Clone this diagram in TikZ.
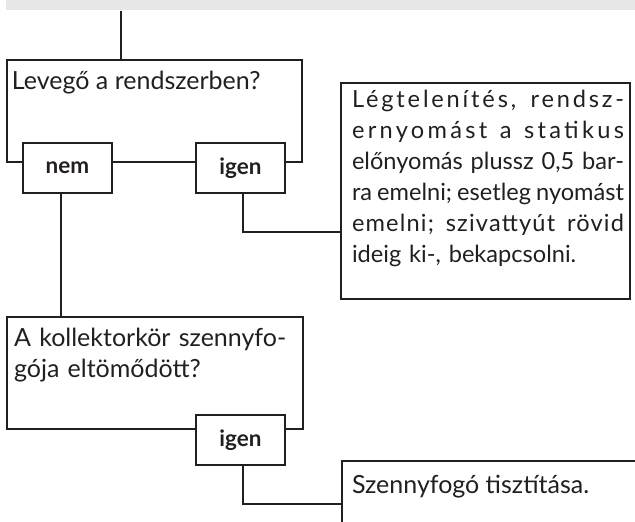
\documentclass[tikz,border=0pt]{standalone}
\usepackage{fontspec}
\setmainfont{Lato}
\definecolor{ink}{HTML}{231F20}
\definecolor{bar}{HTML}{E6E7E9}
\newcommand{\jline}[2][0]{\leavevmode\hbox to 272pt{\addfontfeature{LetterSpace=#1}#2}}
\begin{document}
\begin{tikzpicture}[x=1pt,y=-1pt,
  box/.style={draw=ink, line width=2.2pt, inner sep=0pt, outer sep=0pt, anchor=north west},
  lbl/.style={box, fill=white, text=ink, font=\bfseries\fontsize{22.5}{26}\selectfont, minimum width=89pt, minimum height=50pt},
  txt/.style={anchor=base west, inner sep=0pt, outer sep=0pt, text=ink, font=\fontsize{25}{31}\selectfont},
  small/.style={txt, font=\fontsize{23.6}{31}\selectfont},
  conn/.style={draw=ink, line width=2.2pt}]
\useasboundingbox (0,0) rectangle (635,522);
\clip (0,0) rectangle (635,522);
\fill[bar] (6,0) rectangle (635,10);
% question 1
\node[box, minimum width=295pt, minimum height=102pt] (q1) at (7,60) {};
\node[lbl] (nem1) at (23,143) {nem};
\node[lbl] (igen1) at (196,143) {igen};
\node[txt] (t1) at (12,89) {Levegő a rendszerben?};
\coordinate (top) at (121,11);
\draw[conn] (top) -- (top |- q1.north);
% answer 1
\node[box, minimum width=289pt, minimum height=216pt] (a1) at (341,83) {};
\node[small, text width=272pt, align=left] (t3) at (352,107) {%
\jline[12]{Légtelenítés,\hfill rendsz-}\\
\jline[14]{ernyomást\hfill a\hfill statikus}\\
\jline{előnyomás\hfill plussz\hfill 0,5\hfill bar-}\\
\jline{ra\hfill emelni;\hfill esetleg\hfill nyomást}\\
\jline[5]{emelni;\hfill szivattyút\hfill rövid}\\
ideig ki-, bekapcsolni.};
\coordinate (c1) at (243,232);
\draw[conn] (igen1.south -| c1) -- (c1) -- (c1 -| a1.west);
% question 2
\node[box, minimum width=296pt, minimum height=112pt] (q2) at (7,317) {};
\node[lbl] (igen2) at (196,415) {igen};
\node[txt, text width=285pt, align=left] (t2) at (14,346) {A kollektorkör szennyfo-\\gója eltömődött?};
\coordinate (c0) at (61,200);
\draw[conn] (nem1.south -| c0) -- (q2.north -| c0);
% answer 2
\node[box, minimum width=320pt, minimum height=100pt] (a2) at (342,461) {};
\node[txt] (t4) at (352,493) {Szennyfogó tisztítása.};
\coordinate (c2) at (243,504);
\draw[conn] (igen2.south -| c2) -- (c2) -- (c2 -| a2.west);
\end{tikzpicture}
\end{document}
